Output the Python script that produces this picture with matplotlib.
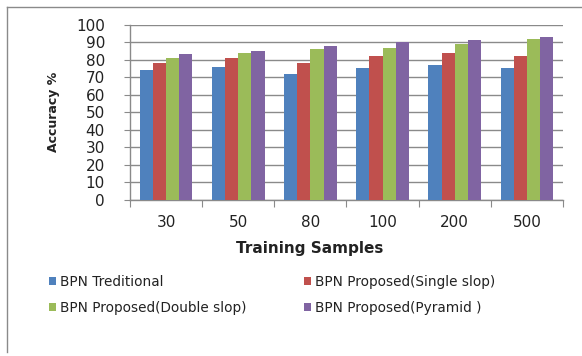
import matplotlib
matplotlib.use("Agg")
import matplotlib.pyplot as plt
import numpy as np
from matplotlib.lines import Line2D
from matplotlib.patches import Patch

samples = ["30", "50", "80", "100", "200", "500"]
series_names = [
    "BPN Treditional",
    "BPN Proposed(Single slop)",
    "BPN Proposed(Double slop)",
    "BPN Proposed(Pyramid )",
]
traditional = [74, 76, 72, 75, 77, 75]
single_slop = [78, 81, 78, 82, 84, 82]
double_slop = [81, 84, 86, 86.5, 89, 91.5]
pyramid = [83, 85, 88, 90, 91, 93]
colors = ["#4F81BD", "#C0504D", "#9BBB59", "#8064A2"]

W, H = 582, 356
fig = plt.figure(figsize=(W / 100, H / 100), dpi=100)
ax = fig.add_axes([130 / W, 1 - 200 / H, (563 - 130) / W, (200 - 24.5) / H])

x = np.arange(len(samples))
bw = 0.183
all_series = [traditional, single_slop, double_slop, pyramid]
handles = []
for i, (vals, c, name) in enumerate(zip(all_series, colors, series_names)):
    ax.bar(x + (i - 1.5) * bw, vals, bw, color=c, label=name, zorder=3)
    handles.append(Patch(facecolor=c, label=name))

ax.set_xlim(-0.5, len(samples) - 0.5)
ax.set_ylim(0, 100)
ax.set_yticks(range(0, 101, 10))
ax.yaxis.grid(True, color="#8a8a8a", linewidth=1.0, zorder=0)
ax.set_axisbelow(True)

# category labels between boundary ticks
ax.set_xticks(np.arange(-0.5, len(samples), 1.0))
ax.set_xticklabels([])
ax.set_xticks(x, minor=True)
ax.set_xticklabels(samples, minor=True, fontsize=11, color="#222222")
ax.tick_params(axis="x", which="minor", length=0, pad=11)
ax.tick_params(axis="x", which="major", length=5, color="#8a8a8a", direction="out")
ax.tick_params(axis="y", length=4, color="#8a8a8a", direction="out", labelsize=11,
               labelcolor="#222222", pad=14)

for s in ["top", "right"]:
    ax.spines[s].set_visible(False)
for s in ["left", "bottom"]:
    ax.spines[s].set_color("#8a8a8a")
    ax.spines[s].set_linewidth(1.0)

fig.text(54 / W, 1 - 112 / H, "Accuracy %", rotation=90, ha="center", va="center",
         fontsize=9, fontweight="bold", color="#222222")
fig.text(310 / W, 1 - 249 / H, "Training Samples", ha="center", va="center",
         fontsize=11, fontweight="bold", color="#222222")

# two-column legend placed as two stacked entries per column
leg_kw = dict(frameon=False, fontsize=9.8, handlelength=0.55, handleheight=0.55,
              handletextpad=0.3, labelspacing=0.9, borderpad=0, labelcolor="#222222")
fig.legend(handles=[handles[0], handles[2]], loc="upper left",
           bbox_to_anchor=(42 / W, 1 - 268 / H), **leg_kw)
fig.legend(handles=[handles[1], handles[3]], loc="upper left",
           bbox_to_anchor=(297 / W, 1 - 268 / H), **leg_kw)

# chart area outline (top and left edges)
fig.add_artist(Line2D([7 / W, 1.0], [1 - 7 / H, 1 - 7 / H], color="#8a8a8a",
                      linewidth=1.0, transform=fig.transFigure))
fig.add_artist(Line2D([7 / W, 7 / W], [1 - 7 / H, 1 - 352 / H], color="#8a8a8a",
                      linewidth=1.0, transform=fig.transFigure))

fig.savefig("out.png", dpi=100)
